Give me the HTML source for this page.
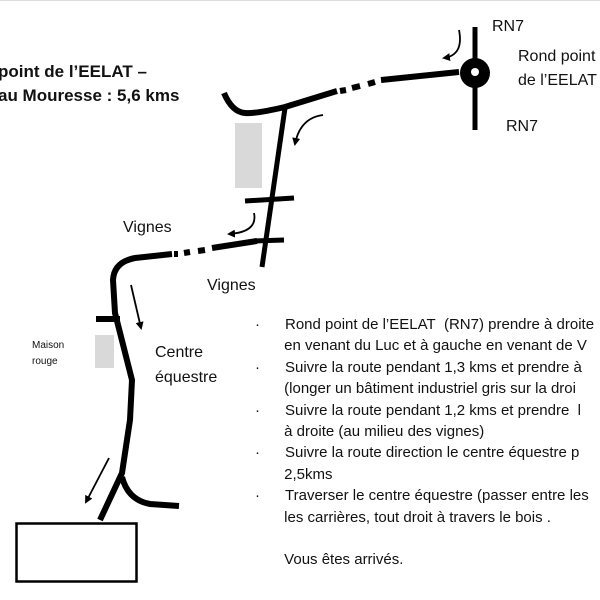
<!DOCTYPE html>
<html><head><meta charset="utf-8"><style>
body{margin:0;background:#fff;width:600px;height:600px;overflow:hidden;position:relative;font-family:"Liberation Sans",sans-serif;}
.t{position:absolute;white-space:nowrap;color:#111;}
</style></head><body>
<svg width="600" height="600" style="position:absolute;left:0;top:0">
<defs><marker id="a" markerWidth="8" markerHeight="8" refX="6" refY="4" orient="auto" markerUnits="userSpaceOnUse"><path d="M0,0 L8,4 L0,8 z" fill="#000"/></marker></defs>
<line x1="0" y1="0.5" x2="600" y2="0.5" stroke="#ddd"/>
<g fill="none" stroke="#000" stroke-width="6" stroke-linecap="butt">
<line x1="475" y1="27" x2="475" y2="130" stroke-width="5"/>
<path d="M459,72 L381,80"/>
<path d="M375,82 L368,84 M360,86 L352,88 M346,90 L340,91" />
<path d="M337,91 L285,107 Q255,114 245,113 Q232,112 224,93"/>
<path d="M285,108 L262,267" stroke-width="5"/>
<path d="M245,201 L294,198" stroke-width="5"/>
<path d="M254,241 L284,240" stroke-width="5"/>
<path d="M257,241 L212,248"/>
<path d="M205,250 L198,251 M190,252 L184,253 M178,254 L174,254"/>
<path d="M172,254 L135,258 Q114,262 113,280 L115,313 L132,380 L130,420 L122,473 L100,520"/>
<path d="M122,477 Q128,500 150,504 L179,506"/>
<path d="M96,319 L120,319"/>
</g>
<circle cx="475" cy="73" r="15" fill="#000"/>
<circle cx="475" cy="72" r="4" fill="#fff"/>
<rect x="235" y="123" width="27" height="65" fill="#d9d9d9"/>
<rect x="95" y="335" width="19" height="33" fill="#d9d9d9"/>
<rect x="16.5" y="523.5" width="120" height="58" fill="none" stroke="#000" stroke-width="2.5"/>
<g fill="none" stroke="#000" stroke-width="1.8">
<path d="M459,30 Q464,55 444,58" marker-end="url(#a)"/>
<path d="M323,115 Q300,118 295,144" marker-end="url(#a)"/>
<path d="M254,213 Q258,232 229,234" marker-end="url(#a)"/>
<path d="M131,285 L141,328" marker-end="url(#a)"/>
<path d="M109,458 L86,502" marker-end="url(#a)"/>
</g>
</svg>
<div class="t" style="left:-2px;top:62px;font-size:17px;font-weight:bold;">point de l’EELAT –</div>
<div class="t" style="left:-2px;top:86px;font-size:17px;font-weight:bold;">au Mouresse : 5,6 kms</div>
<div class="t" style="left:492px;top:18px;font-size:16px;">RN7</div>
<div class="t" style="left:518px;top:48px;font-size:16px;">Rond point</div>
<div class="t" style="left:518px;top:72px;font-size:16px;">de l’EELAT</div>
<div class="t" style="left:506px;top:118px;font-size:16px;">RN7</div>
<div class="t" style="left:123px;top:219px;font-size:16px;">Vignes</div>
<div class="t" style="left:207px;top:277px;font-size:16px;">Vignes</div>
<div class="t" style="left:32px;top:338px;font-size:10px;line-height:16px;">Maison<br>rouge</div>
<div class="t" style="left:155px;top:340px;font-size:16px;line-height:25px;">Centre<br>équestre</div>
<div class="t" style="left:255px;top:314px;font-size:15px;line-height:21.4px;">
<div>·&nbsp;&nbsp;&nbsp;&nbsp;&nbsp;&nbsp;Rond point de l’EELAT&nbsp; (RN7) prendre à droite</div>
<div>&nbsp;&nbsp;&nbsp;&nbsp;&nbsp;&nbsp;&nbsp;en venant du Luc et à gauche en venant de V</div>
<div>·&nbsp;&nbsp;&nbsp;&nbsp;&nbsp;&nbsp;Suivre la route pendant 1,3 kms et prendre à</div>
<div>&nbsp;&nbsp;&nbsp;&nbsp;&nbsp;&nbsp;&nbsp;(longer un bâtiment industriel gris sur la droi</div>
<div>·&nbsp;&nbsp;&nbsp;&nbsp;&nbsp;&nbsp;Suivre la route pendant 1,2 kms et prendre&nbsp; l</div>
<div>&nbsp;&nbsp;&nbsp;&nbsp;&nbsp;&nbsp;&nbsp;à droite (au milieu des vignes)</div>
<div>·&nbsp;&nbsp;&nbsp;&nbsp;&nbsp;&nbsp;Suivre la route direction le centre équestre p</div>
<div>&nbsp;&nbsp;&nbsp;&nbsp;&nbsp;&nbsp;&nbsp;2,5kms</div>
<div>·&nbsp;&nbsp;&nbsp;&nbsp;&nbsp;&nbsp;Traverser le centre équestre (passer entre les</div>
<div>&nbsp;&nbsp;&nbsp;&nbsp;&nbsp;&nbsp;&nbsp;les carrières, tout droit à travers le bois .</div>
<div>&nbsp;</div>
<div>&nbsp;&nbsp;&nbsp;&nbsp;&nbsp;&nbsp;&nbsp;Vous êtes arrivés.</div>
</div>
</body></html>
